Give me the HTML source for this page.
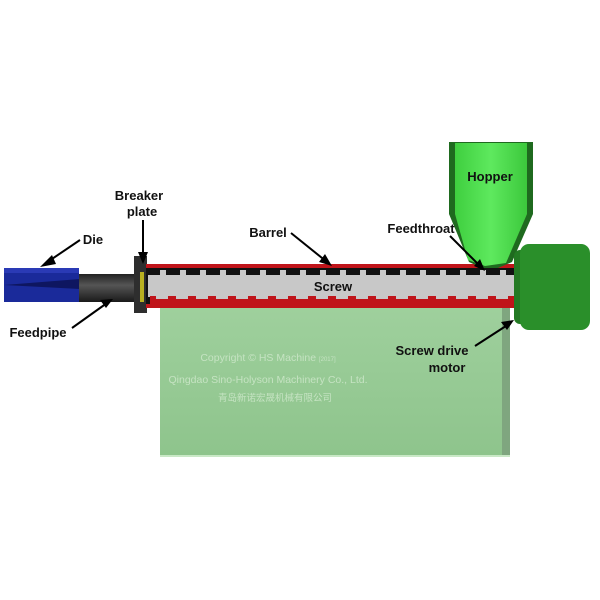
<!DOCTYPE html>
<html><head><style>body{margin:0;background:#fff}svg{display:block}</style></head><body>
<svg width="600" height="600" viewBox="0 0 600 600" xmlns="http://www.w3.org/2000/svg" font-family="Liberation Sans, sans-serif">
<defs>
<linearGradient id="gb" x1="0" y1="0" x2="0" y2="1"><stop offset="0" stop-color="#9fd09d"/><stop offset="1" stop-color="#8ec48c"/></linearGradient>
<linearGradient id="hop" x1="0" y1="0" x2="1" y2="0"><stop offset="0" stop-color="#3fcf3f"/><stop offset="0.5" stop-color="#5ee95e"/><stop offset="1" stop-color="#3cc83c"/></linearGradient>
<linearGradient id="pipe" x1="0" y1="0" x2="0" y2="1"><stop offset="0" stop-color="#222"/><stop offset="0.4" stop-color="#555"/><stop offset="1" stop-color="#1a1a1a"/></linearGradient>
</defs>
<rect x="160" y="305" width="350" height="152" fill="url(#gb)"/>
<rect x="502" y="305" width="8" height="152" fill="#7fa67f"/>
<rect x="160" y="455" width="350" height="2" fill="#c9e8c6"/>
<text x="268" y="361" font-size="10.5" fill="#c5e3c2" text-anchor="middle">Copyright © HS Machine <tspan font-size="6">[2017]</tspan></text>
<text x="268" y="383" font-size="10.5" fill="#c5e3c2" text-anchor="middle">Qingdao Sino-Holyson Machinery Co., Ltd.</text>
<text x="275" y="401" font-size="9.5" fill="#c5e3c2" text-anchor="middle" font-family="Liberation Sans, Noto Sans CJK SC, sans-serif">青岛新诺宏晟机械有限公司</text>
<rect x="4" y="268" width="75" height="34" fill="#1a2a9a"/>
<rect x="4" y="268" width="75" height="5" fill="#2a3ab5"/>
<polygon points="4,285 80,279 80,289" fill="#0e1660"/>
<rect x="79" y="274" width="56" height="28" fill="url(#pipe)"/>
<rect x="134" y="256" width="13" height="57" fill="#2e2e2e"/>
<rect x="140" y="272" width="4" height="30" fill="#b8b020"/>
<rect x="146" y="264" width="374" height="44" fill="#c0141a"/>
<rect x="146" y="268" width="374" height="36" fill="#111"/>
<rect x="148" y="275" width="372" height="22" fill="#c8c8c8"/>
<g fill="#c8c8c8">
<rect x="160" y="270" width="6" height="6"/><rect x="180" y="270" width="6" height="6"/><rect x="200" y="270" width="6" height="6"/><rect x="220" y="270" width="6" height="6"/><rect x="240" y="270" width="6" height="6"/><rect x="260" y="270" width="6" height="6"/><rect x="280" y="270" width="6" height="6"/><rect x="300" y="270" width="6" height="6"/><rect x="320" y="270" width="6" height="6"/><rect x="340" y="270" width="6" height="6"/><rect x="360" y="270" width="6" height="6"/><rect x="380" y="270" width="6" height="6"/><rect x="400" y="270" width="6" height="6"/><rect x="420" y="270" width="6" height="6"/><rect x="440" y="270" width="6" height="6"/><rect x="460" y="270" width="6" height="6"/><rect x="480" y="270" width="6" height="6"/><rect x="500" y="270" width="6" height="6"/>
</g>
<rect x="150" y="296" width="370" height="8" fill="#c0141a"/>
<g fill="#c8c8c8">
<rect x="156" y="296" width="12" height="3"/><rect x="176" y="296" width="12" height="3"/><rect x="196" y="296" width="12" height="3"/><rect x="216" y="296" width="12" height="3"/><rect x="236" y="296" width="12" height="3"/><rect x="256" y="296" width="12" height="3"/><rect x="276" y="296" width="12" height="3"/><rect x="296" y="296" width="12" height="3"/><rect x="316" y="296" width="12" height="3"/><rect x="336" y="296" width="12" height="3"/><rect x="356" y="296" width="12" height="3"/><rect x="376" y="296" width="12" height="3"/><rect x="396" y="296" width="12" height="3"/><rect x="416" y="296" width="12" height="3"/><rect x="436" y="296" width="12" height="3"/><rect x="456" y="296" width="12" height="3"/><rect x="476" y="296" width="12" height="3"/><rect x="496" y="296" width="12" height="3"/>
</g>
<text x="333" y="291" font-size="13" font-weight="bold" fill="#111" text-anchor="middle">Screw</text>
<polygon points="449,142 533,142 533,214 512,262 498,268 482,268 469,262 449,214" fill="#1f6a1f"/>
<polygon points="455,143 527,143 527,214 506,263 485,266 468,260 455,214" fill="url(#hop)"/>
<text x="490" y="181" font-size="13" font-weight="bold" fill="#111" text-anchor="middle">Hopper</text>
<rect x="514" y="250" width="14" height="74" rx="6" fill="#237a23"/>
<rect x="520" y="244" width="70" height="86" rx="9" fill="#2a8f2a"/>
<g font-size="13" font-weight="bold" fill="#111">
<text x="93" y="244" text-anchor="middle">Die</text>
<text x="139" y="200" text-anchor="middle">Breaker</text>
<text x="142" y="216" text-anchor="middle">plate</text>
<text x="268" y="237" text-anchor="middle">Barrel</text>
<text x="421" y="233" text-anchor="middle">Feedthroat</text>
<text x="38" y="337" text-anchor="middle">Feedpipe</text>
<text x="432" y="355" text-anchor="middle">Screw drive</text>
<text x="447" y="372" text-anchor="middle">motor</text>
</g>
<g stroke="#000" stroke-width="2" fill="none">
<line x1="80" y1="240" x2="46" y2="263"/>
<line x1="143" y1="220" x2="143" y2="258"/>
<line x1="291" y1="233" x2="327" y2="262"/>
<line x1="450" y1="236" x2="480" y2="266"/>
<line x1="72" y1="328" x2="107" y2="303"/>
<line x1="475" y1="346" x2="509" y2="324"/>
</g>
<g fill="#000">
<polygon points="40,267 52,255 56,264"/>
<polygon points="143,264 138,252 148,252"/>
<polygon points="332,266 319,262 325,254"/>
<polygon points="485,271 474,266 480,259"/>
<polygon points="113,299 100,300 106,308"/>
<polygon points="514,320 501,322 507,330"/>
</g>
</svg>
</body></html>
